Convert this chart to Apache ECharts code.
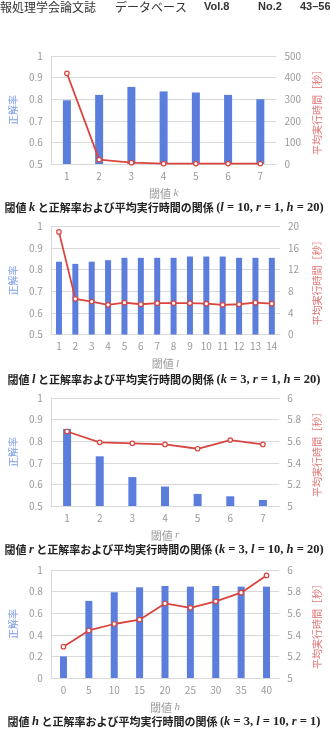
<!DOCTYPE html>
<html><head><meta charset="utf-8">
<script src="https://cdn.jsdelivr.net/npm/echarts@6/dist/echarts.min.js"></script>
<style>html,body{margin:0;padding:0;background:#fff}#c{width:330px;height:738px}</style>
</head><body><div id="c"></div>
<script>
// ---- data ----
const kCats = ['1','2','3','4','5','6','7'];
const kAcc  = [0.795, 0.82, 0.857, 0.836, 0.831, 0.82, 0.80];
const kTime = [420, 20, 6, 2, 2, 2, 2];
const kAccTicks  = [0.5, 0.6, 0.7, 0.8, 0.9, 1];
const kTimeTicks = [0, 100, 200, 300, 400, 500];

const lCats = ['1','2','3','4','5','6','7','8','9','10','11','12','13','14'];
const lAcc  = [0.837, 0.827, 0.837, 0.844, 0.855, 0.855, 0.855, 0.855, 0.861, 0.861, 0.861, 0.855, 0.855, 0.855];
const lTime = [19.0, 6.6, 6.1, 5.5, 5.9, 5.6, 5.8, 5.8, 5.8, 5.7, 5.5, 5.6, 5.9, 5.7];
const lAccTicks  = [0.5, 0.6, 0.7, 0.8, 0.9, 1];
const lTimeTicks = [0, 4, 8, 12, 16, 20];

const rCats = ['1','2','3','4','5','6','7'];
const rAcc  = [0.857, 0.73, 0.634, 0.59, 0.556, 0.545, 0.528];
const rTime = [5.69, 5.59, 5.58, 5.57, 5.53, 5.61, 5.57];
const rAccTicks  = [0.5, 0.6, 0.7, 0.8, 0.9, 1];
const rTimeTicks = [5, 5.2, 5.4, 5.6, 5.8, 6];

const hCats = ['0','5','10','15','20','25','30','35','40'];
const hAcc  = [0.20, 0.714, 0.794, 0.84, 0.852, 0.846, 0.852, 0.846, 0.846];
const hTime = [5.29, 5.44, 5.50, 5.54, 5.69, 5.65, 5.71, 5.79, 5.95];
const hAccTicks  = [0, 0.2, 0.4, 0.6, 0.8, 1];
const hTimeTicks = [5, 5.2, 5.4, 5.6, 5.8, 6];

const xNames = ['k', 'l', 'r', 'h'];
const captions = [
  ['閾値 ', '*k', ' と正解率および平均実行時間の関係 ', '(', '*l', ' = 10, ', '*r', ' = 1, ', '*h', ' = 20)'],
  ['閾値 ', '*l', ' と正解率および平均実行時間の関係 ', '(', '*k', ' = 3, ', '*r', ' = 1, ', '*h', ' = 20)'],
  ['閾値 ', '*r', ' と正解率および平均実行時間の関係 ', '(', '*k', ' = 3, ', '*l', ' = 10, ', '*h', ' = 20)'],
  ['閾値 ', '*h', ' と正解率および平均実行時間の関係 ', '(', '*k', ' = 3, ', '*l', ' = 10, ', '*r', ' = 1)']
];
const accName = '正解率';
const timeName = '平均実行時間［秒］';

// ---- styles ----
const FONT = '"Noto Sans CJK JP", "Noto Sans", sans-serif';
const SERIF = '"Liberation Serif", "DejaVu Serif", serif';
const BAR = '#5b7ddb', LINE = '#d9453f', GRIDC = '#d9d9d9', LBL = '#9a9a9a';
const charts = [
  {cats:kCats, acc:kAcc, time:kTime, at:kAccTicks, tt:kTimeTicks, bw:8},
  {cats:lCats, acc:lAcc, time:lTime, at:lAccTicks, tt:lTimeTicks, bw:6},
  {cats:rCats, acc:rAcc, time:rTime, at:rAccTicks, tt:rTimeTicks, bw:8},
  {cats:hCats, acc:hAcc, time:hTime, at:hAccTicks, tt:hTimeTicks, bw:7}
];
const gridTops = [56, 226.5, 398, 570];
const capY = [207.5, 379.5, 549.5, 721.5];
const fmt = v => String(+(+v).toFixed(3));

const grid = [], xAxis = [], yAxis = [], series = [], graphic = [];
charts.forEach((c, i) => {
  grid.push({left: 48, right: 50, top: gridTops[i], height: 108});
  xAxis.push({
    type: 'category', gridIndex: i, data: c.cats,
    axisLine: {lineStyle: {color: GRIDC}}, axisTick: {show: false},
    axisLabel: {color: LBL, fontSize: 10, margin: 7, fontFamily: FONT, interval: 0},
    name: '{n|閾値 }{m|' + xNames[i] + '}', nameLocation: 'middle', nameGap: 24,
    nameTextStyle: {rich: {
      n: {color: LBL, fontSize: 11, fontFamily: FONT},
      m: {color: LBL, fontSize: 11, fontFamily: SERIF, fontStyle: 'italic'}
    }}
  });
  const at = c.at, tt = c.tt;
  yAxis.push({
    type: 'value', gridIndex: i, min: at[0], max: at[at.length-1],
    interval: +(at[1]-at[0]).toFixed(6),
    axisLine: {show: true, lineStyle: {color: GRIDC}}, axisTick: {show: false},
    splitLine: {lineStyle: {color: GRIDC}},
    axisLabel: {color: LBL, fontSize: 10, margin: 8, fontFamily: FONT, formatter: fmt},
    name: accName, nameLocation: 'middle', nameRotate: 90, nameGap: 26,
    nameTextStyle: {color: '#7f9fe6', fontSize: 10, fontFamily: FONT}
  });
  yAxis.push({
    type: 'value', gridIndex: i, position: 'right', min: tt[0], max: tt[tt.length-1],
    interval: +(tt[1]-tt[0]).toFixed(6),
    axisLine: {show: false}, axisTick: {show: false}, splitLine: {show: false},
    axisLabel: {color: LBL, fontSize: 10, margin: 8, fontFamily: FONT, formatter: fmt},
    name: timeName, nameLocation: 'middle', nameRotate: 90, nameGap: 32,
    nameTextStyle: {color: '#e57373', fontSize: 10, fontFamily: FONT}
  });
  series.push({
    type: 'bar', xAxisIndex: i, yAxisIndex: 2*i, data: c.acc, barWidth: c.bw,
    itemStyle: {color: BAR}
  });
  series.push({
    type: 'line', xAxisIndex: i, yAxisIndex: 2*i+1, data: c.time,
    symbol: 'circle', symbolSize: 4.5, showSymbol: true,
    lineStyle: {color: LINE, width: 1.8},
    itemStyle: {color: '#fff', borderColor: LINE, borderWidth: 1.2}, z: 5
  });
  // caption
  let txt = '';
  captions[i].forEach(p => {
    if (p[0] === '*') txt += '{m|' + p.slice(1) + '}';
    else if (/^[ (=0-9,)]+$/.test(p)) txt += '{p|' + p + '}';
    else txt += '{n|' + p + '}';
  });
  graphic.push({
    type: 'text', x: 164, y: capY[i],
    style: {
      text: txt, align: 'center', verticalAlign: 'middle',
      rich: {
        n: {fontSize: 11, fontWeight: 'bold', fontFamily: FONT, fill: '#222'},
        p: {fontSize: 12.5, fontWeight: 'bold', fontFamily: SERIF, fill: '#222'},
        m: {fontSize: 12.5, fontWeight: 'bold', fontStyle: 'italic', fontFamily: SERIF, fill: '#222'}
      }
    }
  });
});

// header
const header = [
  {x: 0, t: '報処理学会論文誌', b: false},
  {x: 115, t: 'データベース', b: false},
  {x: 204, t: 'Vol.8', b: true},
  {x: 258, t: 'No.2', b: true},
  {x: 300, t: '43–56', b: true}
];
header.forEach(h => graphic.push({
  type: 'text', x: h.x, y: 7,
  style: {text: h.t, verticalAlign: 'middle', fill: '#333',
    font: h.b ? 'bold 11px "Liberation Sans", Arial, sans-serif' : '12px ' + FONT}
}));

const chart = echarts.init(document.getElementById('c'), null, {renderer: 'canvas'});
chart.setOption({animation: false, grid, xAxis, yAxis, series, graphic});
</script></body></html>
